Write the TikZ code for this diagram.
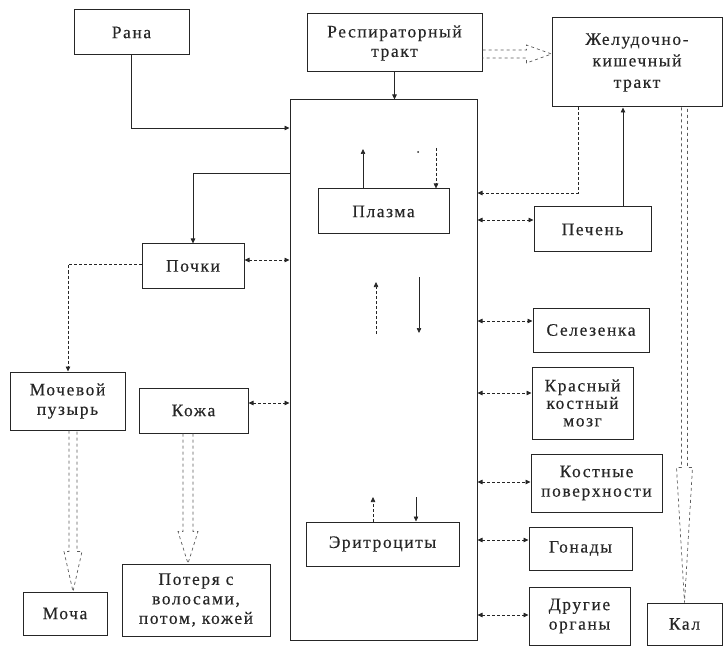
\documentclass[tikz,border=0pt]{standalone}
\usepackage{fontspec}
\setmainfont{Liberation Serif}[LetterSpace=9, FakeBold=0.4]
\usetikzlibrary{arrows.meta,calc}
\definecolor{ink}{gray}{0.15}
\newcommand\lbl{\fontsize{17.5}{19.5}\selectfont}
\newcommand\fatdown[5]{\draw[fatarr] let \p1=(#1), \p2=(#2) in
  (\x1-#3pt,\y1) -- (\x1-#3pt,\y2+#5pt) -- (\x1-#4pt,\y2+#5pt) -- (\x1,\y2)
  -- (\x1+#4pt,\y2+#5pt) -- (\x1+#3pt,\y2+#5pt) -- (\x1+#3pt,\y1);}
\newcommand\fatright[5]{\draw[fatarr] let \p1=(#1), \p2=(#2) in
  (\x1,\y1+#3pt) -- (\x2-#5pt,\y1+#3pt) -- (\x2-#5pt,\y1+#4pt) -- (\x2,\y1)
  -- (\x2-#5pt,\y1-#4pt) -- (\x2-#5pt,\y1-#3pt) -- (\x1,\y1-#3pt);}
\tikzset{
  nbox/.style={draw=ink, line width=1pt, inner sep=2pt, align=center, text=ink, font=\lbl},
  conn/.style={draw=ink, line width=0.8pt},
  arr/.style={-{Triangle[length=5pt,width=4.5pt]}},
  biarr/.style={{Triangle[length=5pt,width=4.5pt]}-{Triangle[length=5pt,width=4.5pt]}, densely dashed},
  fatarr/.style={draw=ink!75, line width=0.7pt, dashed}
}
\begin{document}
\begin{tikzpicture}[x=1pt,y=-1pt]
\useasboundingbox (0,0) rectangle (723,647);
% boxes
\node[nbox, minimum width=115pt, minimum height=45pt] (rana) at (131.5,32.5) {Рана};
\node[nbox, minimum width=175pt, minimum height=58pt] (resp) at (394.5,43) {Респираторный\\тракт};
\node[nbox, minimum width=170pt, minimum height=89pt, font=\fontsize{17.5}{21.5}\selectfont] (zhkt) at (637,62.5) {Желудочно-\\кишечный\\тракт};
\node[draw=ink, line width=1pt, minimum width=187pt, minimum height=540pt, inner sep=0pt] (blood) at (383.5,370) {};
\node[nbox, minimum width=131pt, minimum height=45pt] (plasma) at (383.5,211.5) {Плазма};
\node[nbox, minimum width=117pt, minimum height=45pt] (pechen) at (592.5,229.5) {Печень};
\node[nbox, minimum width=102pt, minimum height=44pt] (pochki) at (193,266) {Почки};
\node[nbox, minimum width=116pt, minimum height=44pt] (selez) at (591,330) {Селезенка};
\node[nbox, minimum width=101pt, minimum height=72pt, font=\fontsize{17.5}{17.5}\selectfont] (krasny) at (582.5,403) {Красный\\костный\\мозг};
\node[nbox, minimum width=131pt, minimum height=58pt] (kostnye) at (596.5,483) {Костные\\поверхности};
\node[nbox, minimum width=103pt, minimum height=43pt] (gonady) at (580.5,548.5) {Гонады};
\node[nbox, minimum width=101pt, minimum height=58pt] (drugie) at (579.5,616) {Другие\\органы};
\node[nbox, minimum width=75pt, minimum height=42pt] (kal) at (684.5,624) {Кал};
\node[nbox, minimum width=115pt, minimum height=58pt] (mochevoy) at (67.5,401) {Мочевой\\пузырь};
\node[nbox, minimum width=109pt, minimum height=45pt] (kozha) at (193.5,410.5) {Кожа};
\node[nbox, minimum width=153pt, minimum height=44pt] (eritro) at (382.5,544) {Эритроциты};
\node[nbox, minimum width=84pt, minimum height=43pt] (mocha) at (65,613.5) {Моча};
\node[nbox, minimum width=148pt, minimum height=72pt] (poterya) at (196,600) {Потеря с\\волосами,\\потом, кожей};
% level coordinates
\coordinate (yRana) at (0,128);
\coordinate (yPochkiIn) at (0,173);
\coordinate (xPochkiIn) at (193,0);
\coordinate (yPochki) at (0,260);
\coordinate (yPochkiOut) at (0,264);
\coordinate (xMoch) at (68,0);
\coordinate (yKozha) at (0,403);
\coordinate (yZhkt) at (0,193);
\coordinate (xZhkt) at (578,0);
\coordinate (yPechen) at (0,220);
\coordinate (xPechen) at (623,0);
\coordinate (ySel) at (0,321);
\coordinate (yKras) at (0,393);
\coordinate (yKost) at (0,482);
\coordinate (yGon) at (0,540);
\coordinate (yDrug) at (0,615);
\coordinate (yResp) at (0,54);
% left side connectors
\draw[conn,arr] (rana.south) |- (blood.west |- yRana);
\draw[conn,arr] (blood.west |- yPochkiIn) -| (pochki.north -| xPochkiIn);
\draw[conn,biarr] (pochki.east |- yPochki) -- (blood.west |- yPochki);
\draw[conn,arr,densely dashed] (pochki.west |- yPochkiOut) -| (mochevoy.north -| xMoch);
\draw[conn,biarr] (kozha.east |- yKozha) -- (blood.west |- yKozha);
\draw[conn,arr] (resp.south) -- (blood.north -| resp.south);
% fat arrows
\fatright{resp.east |- yResp}{zhkt.west |- yResp}{4}{9}{25}
\fatdown{$(mochevoy.south)+(5.5,0)$}{$(mocha.north)+(8,0)$}{4}{9}{40}
\fatdown{$(kozha.south)+(-5.5,0)$}{$(poterya.north)+(-8,0)$}{5}{10}{32}
\fatdown{kal.north |- zhkt.south}{kal.north}{3}{8}{135}
% right side connectors
\draw[conn,arr,densely dashed] (zhkt.south -| xZhkt) |- (blood.east |- yZhkt);
\draw[conn,biarr] (blood.east |- yPechen) -- (pechen.west |- yPechen);
\draw[conn,arr] (pechen.north -| xPechen) -- (zhkt.south -| xPechen);
\draw[conn,biarr] (blood.east |- ySel) -- (selez.west |- ySel);
\draw[conn,biarr] (blood.east |- yKras) -- (krasny.west |- yKras);
\draw[conn,biarr] (blood.east |- yKost) -- (kostnye.west |- yKost);
\draw[conn,biarr] (blood.east |- yGon) -- (gonady.west |- yGon);
\draw[conn,biarr] (blood.east |- yDrug) -- (drugie.west |- yDrug);
% arrows inside the blood box
\coordinate (pa) at (363,149);
\coordinate (pb) at (436,148);
\draw[conn,arr,line width=0.6pt] (plasma.north -| pa) -- (pa);
\draw[conn,arr,line width=0.6pt,densely dashed] (pb) -- (plasma.north -| pb);
\fill[ink] (418,152) circle (1pt);
\coordinate (ma) at (376,282);
\coordinate (mab) at (376,334);
\coordinate (mb) at (419,277);
\coordinate (mbb) at (419,333);
\draw[conn,arr,line width=0.6pt,densely dashed] (mab) -- (ma);
\draw[conn,arr,line width=0.6pt] (mb) -- (mbb);
\coordinate (ea) at (373,497);
\coordinate (eb) at (416,497);
\draw[conn,arr,line width=0.6pt,densely dashed] (eritro.north -| ea) -- (ea);
\draw[conn,arr,line width=0.6pt] (eb) -- (eritro.north -| eb);
\end{tikzpicture}
\end{document}
